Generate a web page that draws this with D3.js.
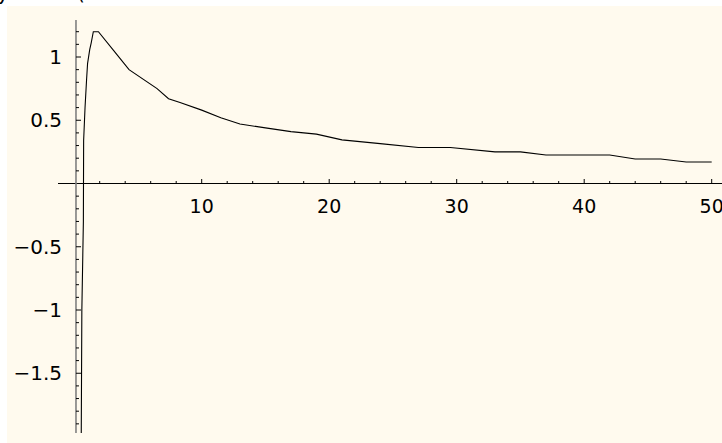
<!DOCTYPE html>
<html><head><meta charset="utf-8">
<script src="https://cdn.jsdelivr.net/npm/d3@7"></script>
<style>html,body{margin:0;padding:0;background:#fff;overflow:hidden}</style>
</head><body>
<svg id="c" width="722" height="443"></svg>
<script>
const xs = [0.55,0.6,0.72,0.74,0.85,0.97,1.05,1.22,1.33,1.5,1.9,3.1,4.3,6.5,7.4,8.3,10,11.5,13,15,17,19,21,24,27,29.5,33,35,37,42,44,46,48,50];
const ys = [-2.05,-1.0,-0.3,0.34,0.6,0.82,0.95,1.06,1.11,1.2,1.2,1.05,0.9,0.75,0.67,0.64,0.58,0.52,0.47,0.44,0.41,0.39,0.345,0.315,0.285,0.285,0.25,0.25,0.225,0.225,0.194,0.194,0.17,0.17];
const xMajor = [10,20,30,40,50];
const yMajor = [-1.5,-1,-0.5,0.5,1];
const yMajorLabels = ["\u22121.5","\u22121","\u22120.5","0.5","1"];

const svg = d3.select("#c");
svg.append("rect").attr("x",7).attr("y",6).attr("width",715).attr("height",437).attr("fill","#fffaee");
// cut-off title fragments
svg.append("text").attr("x",-3).attr("y",0).attr("font-family","DejaVu Sans").attr("font-size",20).text("y");
svg.append("text").attr("x",77).attr("y",0).attr("font-family","DejaVu Sans").attr("font-size",20).text("(");

const x = d3.scaleLinear().domain([0,50]).range([74.2,711.7]);
const y = d3.scaleLinear().domain([0,1]).range([183.5,57]);
const x0 = 0.14;

svg.append("clipPath").attr("id","cp").append("rect")
  .attr("x",x(x0)).attr("y",20).attr("width",722).attr("height",413);

// x axis
svg.append("line").attr("x1",58).attr("x2",722).attr("y1",y(0)).attr("y2",y(0)).attr("stroke","#000").attr("stroke-width",1);
const xMinor = d3.range(2,51,2).filter(v=>v%10!==0);
svg.selectAll(".xm").data(xMinor).join("line")
  .attr("x1",d=>x(d)).attr("x2",d=>x(d)).attr("y1",y(0)).attr("y2",y(0)-2.5).attr("stroke","#000");
svg.selectAll(".xM").data(xMajor).join("line")
  .attr("x1",d=>x(d)).attr("x2",d=>x(d)).attr("y1",y(0)).attr("y2",y(0)-4.5).attr("stroke","#000");
svg.selectAll(".xl").data(xMajor).join("text")
  .attr("x",d=>x(d)).attr("y",213).attr("text-anchor","middle")
  .attr("font-family","DejaVu Sans").attr("font-size",19).text(d=>d);

// y axis
svg.append("line").attr("x1",x(x0)).attr("x2",x(x0)).attr("y1",20).attr("y2",433).attr("stroke","#808080").attr("stroke-width",1.6);
const yMinor = d3.range(-19,13).map(v=>v/10).filter(v=>Math.abs(v*2-Math.round(v*2))>1e-9);
svg.selectAll(".ym").data(yMinor).join("line")
  .attr("x1",x(x0)).attr("x2",x(x0)+3).attr("y1",d=>y(d)).attr("y2",d=>y(d)).attr("stroke","#000");
svg.selectAll(".yM").data(yMajor).join("line")
  .attr("x1",x(x0)).attr("x2",x(x0)+5).attr("y1",d=>y(d)).attr("y2",d=>y(d)).attr("stroke","#000");
svg.selectAll(".yl").data(yMajor).join("text")
  .attr("x",62).attr("y",d=>y(d)).attr("dy","0.36em").attr("text-anchor","end")
  .attr("font-family","DejaVu Sans").attr("font-size",20).text((d,i)=>yMajorLabels[i]);

// curve
const pts = xs.map((v,i)=>[v,ys[i]]);
svg.append("path").attr("clip-path","url(#cp)")
  .attr("d", d3.line().x(d=>x(d[0])).y(d=>y(d[1]))(pts))
  .attr("fill","none").attr("stroke","#000").attr("stroke-width",1.1);
</script>
</body></html>
